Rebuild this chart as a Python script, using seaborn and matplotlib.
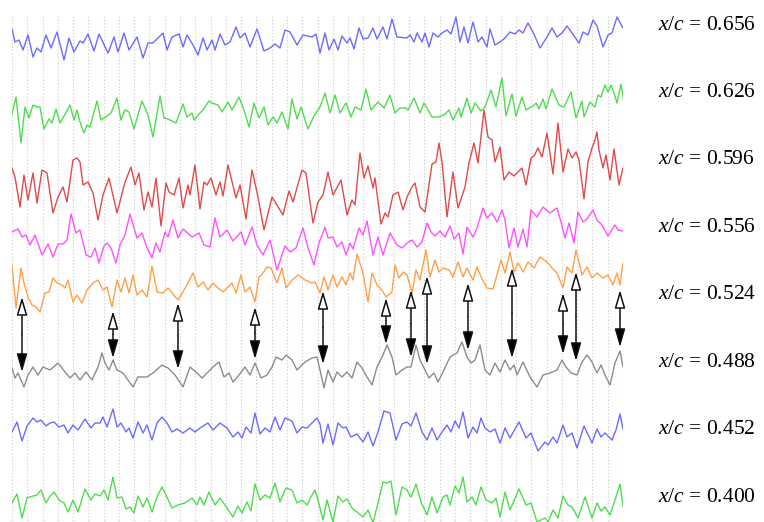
import numpy as np
import pandas as pd
import matplotlib
matplotlib.use("Agg")
import matplotlib.pyplot as plt
import seaborn as sns

# ---------------- data ----------------
# channel labels (x/c positions) and their display offsets (signal units, downward)
labels = ["0.656", "0.626", "0.596", "0.556", "0.524", "0.488", "0.452", "0.400"]
offsets = [40, 108, 178, 232, 285, 370, 428, 497]
colors = ["#6b6bff", "#4fdc4f", "#e04a4a", "#ff52ff", "#ffa048", "#8c8c8c", "#6b6bff", "#4fdc4f"]

# (sample, amplitude) readings for each channel
ch_0656 = [(12,11),(15,-2),(19,0),(23,-10),(28,5),(33,-17),(37,-8),(41,-12),(46,5),(51,-8),(57,8),(64,-20),(69,2),(74,-12),(80,-1),(83,-3),(88,6),(94,-11),(99,6),(108,-13),(114,3),(118,-12),(124,7),(129,-10),(137,3),(143,-18),(148,-3),(153,-3),(163,7),(167,-10),(172,3),(179,6),(183,-7),(187,5),(193,-5),(198,-15),(203,2),(207,-10),(212,0),(215,-10),(220,6),(225,-5),(230,-2),(236,13),(240,2),(245,7),(250,-7),(257,11),(264,-11),(270,-8),(275,-4),(280,-8),(285,10),(290,8),(297,-5),(303,5),(312,3),(316,6),(320,-13),(325,7),(329,-10),(334,1),(338,-10),(342,4),(347,-3),(350,2),(354,-9),(359,12),(363,1),(368,2),(373,12),(377,1),(383,13),(387,1),(392,21),(397,3),(407,2),(410,5),(414,-2),(417,7),(422,-2),(425,7),(429,-7),(433,7),(438,3),(442,7),(447,10),(451,6),(456,23),(460,-2),(464,13),(468,-3),(473,18),(478,-2),(482,3),(487,-7),(490,11),(495,-5),(500,-2),(505,2),(510,8),(515,6),(519,10),(523,7),(528,17),(533,8),(540,-8),(547,3),(552,12),(557,3),(562,7),(567,14),(572,7),(579,-3),(583,8),(588,5),(593,20),(597,14),(603,-7),(608,5),(612,7),(617,23),(623,12)]
ch_0626 = [(12,-6),(16,11),(21,-35),(25,1),(29,-10),(33,3),(37,1),(40,1),(44,-21),(49,-11),(52,-15),(56,-1),(60,-15),(64,-8),(70,3),(74,-12),(77,-2),(80,-14),(84,-25),(87,-17),(90,-19),(97,7),(101,-12),(107,-8),(111,-5),(117,10),(121,-12),(125,-2),(129,-4),(134,-21),(142,7),(148,-7),(153,-29),(160,12),(164,-10),(168,-11),(176,-15),(183,4),(187,-9),(192,-5),(194,-12),(199,-6),(203,-2),(209,7),(212,5),(218,3),(222,-4),(228,6),(232,-2),(239,11),(244,-2),(249,-19),(254,5),(259,-10),(264,1),(268,-17),(273,-9),(277,-15),(282,-4),(288,-21),(292,9),(297,-11),(301,1),(308,-21),(314,-8),(320,1),(325,15),(330,-5),(335,13),(340,-5),(346,5),(351,-9),(355,1),(361,-2),(366,19),(371,-2),(378,6),(384,0),(390,13),(395,-5),(400,0),(406,0),(408,-2),(414,10),(420,-5),(424,5),(432,-9),(438,-9),(444,-7),(449,-2),(453,-12),(459,0),(461,-9),(467,10),(471,-5),(475,5),(481,-3),(485,1),(491,18),(496,1),(502,30),(506,-8),(512,14),(516,-8),(522,11),(526,-2),(533,2),(536,5),(539,-1),(543,9),(546,-1),(552,19),(559,3),(564,1),(571,16),(576,-10),(582,7),(584,-9),(590,6),(595,1),(598,13),(601,11),(605,23),(608,16),(611,23),(614,15),(617,5),(621,24),(624,6)]
ch_0596 = [(12,10),(15,1),(20,-29),(24,3),(28,-22),(33,5),(37,-25),(42,8),(47,5),(53,-35),(58,-19),(63,-9),(67,-24),(73,18),(77,20),(80,16),(83,-7),(88,-4),(93,-15),(98,-42),(103,-17),(109,0),(117,-35),(125,-4),(131,11),(135,-7),(139,5),(144,-32),(148,-14),(152,-29),(156,0),(161,-48),(166,-5),(169,-14),(174,-17),(179,0),(183,-30),(188,-7),(190,-17),(195,13),(200,-31),(204,-4),(207,-7),(211,0),(216,-17),(220,-4),(223,-18),(228,13),(236,-20),(240,-7),(246,-41),(252,8),(257,-14),(264,-52),(272,-19),(283,-37),(289,-13),(293,-24),(302,8),(306,5),(313,-45),(318,-24),(323,-17),(328,6),(333,-17),(341,-2),(347,-37),(352,-22),(355,-27),(360,25),(364,0),(368,12),(373,-10),(375,0),(381,-46),(385,-35),(388,-39),(393,-17),(398,-14),(403,-32),(407,-19),(412,-9),(415,-5),(420,-29),(425,-34),(432,14),(436,16),(439,35),(442,16),(447,-39),(453,6),(458,-30),(465,-9),(469,15),(474,35),(478,15),(484,68),(488,41),(492,38),(495,16),(500,31),(504,-2),(509,6),(514,2),(522,10),(526,-7),(531,20),(534,22),(538,30),(542,21),(547,45),(553,4),(558,55),(563,6),(568,29),(572,20),(576,26),(579,18),(584,-21),(588,16),(592,30),(594,35),(597,46),(599,28),(603,10),(606,23),(610,-2),(614,29),(619,-7),(623,10)]
ch_0556 = [(12,0),(18,3),(22,-5),(26,-3),(30,-13),(35,-3),(42,-23),(48,-12),(53,-25),(58,-12),(63,-12),(67,-8),(71,18),(76,-1),(80,2),(86,-23),(91,-25),(95,-16),(99,-31),(104,-14),(107,-11),(111,-16),(116,-31),(120,-13),(125,-3),(130,18),(137,-6),(142,-1),(147,-16),(152,-26),(156,-11),(160,-20),(165,0),(168,-5),(173,12),(178,-6),(183,3),(192,-5),(199,-1),(204,-13),(210,-15),(215,14),(220,-5),(227,2),(233,-9),(241,0),(245,-13),(252,5),(257,-13),(263,-23),(270,-8),(277,-38),(285,-14),(290,-20),(296,-16),(303,4),(308,-16),(314,-33),(319,-11),(325,5),(328,-6),(333,-5),(337,-15),(342,-10),(346,-23),(350,-11),(353,-17),(359,4),(363,-3),(367,11),(373,-23),(378,-5),(383,-23),(390,-1),(397,-13),(402,-16),(407,-11),(412,-8),(417,-15),(422,-10),(427,9),(431,0),(435,-4),(440,1),(445,-5),(450,6),(454,-7),(459,-1),(463,-22),(467,5),(473,-5),(477,4),(483,24),(487,14),(492,19),(497,10),(502,22),(505,12),(509,-16),(514,4),(518,-15),(523,3),(527,-15),(531,22),(537,15),(543,25),(550,19),(557,24),(561,10),(565,-6),(569,9),(574,-11),(578,20),(583,10),(587,13),(593,22),(597,12),(602,7),(608,-4),(615,7),(618,2),(623,1)]
ch_0524 = [(12,20),(16,-23),(21,17),(24,2),(28,-12),(32,-20),(36,-22),(40,-27),(45,-8),(49,-7),(53,7),(57,2),(62,0),(65,-3),(68,5),(73,-17),(77,-10),(82,-18),(87,-5),(93,2),(98,5),(103,-5),(107,-2),(112,-22),(117,5),(121,-7),(125,7),(129,-8),(133,10),(137,-10),(142,-5),(147,-12),(152,19),(157,-7),(163,-8),(168,-3),(178,-15),(187,0),(193,12),(198,-2),(203,3),(208,-5),(213,2),(218,-3),(223,-7),(227,-3),(232,2),(236,-8),(241,10),(245,-7),(250,-2),(255,-17),(259,8),(263,12),(267,18),(271,17),(273,12),(277,2),(282,17),(286,-3),(292,5),(298,10),(305,5),(312,2),(315,3),(320,-8),(324,8),(328,-5),(333,10),(337,-2),(342,8),(346,0),(350,12),(353,5),(357,31),(363,12),(368,-17),(372,12),(377,0),(382,-5),(386,-12),(392,-7),(395,20),(399,7),(403,13),(407,10),(412,-8),(416,15),(420,5),(426,35),(430,8),(435,25),(439,13),(443,17),(449,15),(453,8),(458,23),(463,8),(467,17),(473,5),(477,18),(481,8),(487,-3),(493,-4),(501,25),(505,12),(510,33),(514,13),(518,22),(523,13),(528,23),(534,17),(540,28),(547,23),(552,17),(557,12),(563,-3),(567,18),(572,12),(576,35),(582,10),(587,18),(592,7),(597,12),(603,7),(608,10),(613,0),(617,12),(620,0),(623,22)]
ch_0488 = [(12,2),(15,-8),(18,-3),(24,-17),(28,-5),(33,3),(38,-5),(43,3),(50,0),(58,7),(65,-2),(70,-8),(75,-3),(80,-10),(86,-2),(92,-10),(98,3),(102,17),(105,7),(109,0),(113,10),(117,0),(123,-3),(128,-10),(133,-17),(138,-7),(147,-7),(153,-3),(162,5),(168,2),(175,-5),(183,-17),(190,3),(197,-3),(202,-8),(207,-3),(213,3),(219,8),(224,-7),(229,-3),(233,-12),(239,-5),(245,3),(250,-5),(255,7),(261,-8),(267,-5),(272,3),(276,13),(282,10),(286,15),(292,10),(297,0),(305,8),(312,12),(317,13),(320,0),(324,-18),(328,0),(333,-12),(337,-2),(342,-7),(347,-2),(352,-8),(357,8),(362,2),(367,-7),(372,-15),(377,3),(383,15),(387,25),(392,13),(396,-5),(402,0),(407,3),(411,3),(416,25),(420,10),(425,0),(429,-8),(434,-3),(438,-12),(443,-2),(450,13),(457,17),(462,28),(467,13),(471,7),(475,10),(480,25),(485,0),(490,-5),(495,7),(500,-2),(505,10),(510,0),(514,5),(517,-5),(523,8),(530,-7),(537,-17),(543,-5),(550,-3),(557,0),(562,10),(566,3),(571,-3),(577,-5),(582,8),(587,15),(592,8),(597,-3),(601,5),(605,-5),(610,-15),(615,7),(620,19),(623,3)]
ch_0452 = [(12,-4),(17,6),(22,-13),(27,2),(33,10),(37,6),(41,8),(46,2),(50,5),(54,6),(59,1),(64,3),(68,-5),(73,3),(78,-2),(85,9),(91,0),(95,5),(100,5),(103,11),(107,1),(113,19),(117,1),(121,5),(126,-4),(129,0),(133,-10),(138,6),(143,-5),(147,3),(152,-12),(157,5),(162,11),(167,5),(172,-4),(177,-1),(183,-5),(190,0),(195,-4),(200,0),(208,5),(213,-2),(220,5),(227,0),(233,-9),(238,-4),(242,-10),(246,1),(251,-5),(255,15),(260,-6),(265,0),(270,-4),(275,11),(280,-2),(285,10),(292,7),(297,-5),(302,1),(307,0),(312,5),(317,10),(320,4),(323,-15),(328,4),(333,-17),(338,5),(343,0),(346,1),(351,-9),(357,-6),(363,-14),(368,-4),(373,-18),(378,-4),(384,17),(390,15),(396,-12),(402,4),(407,6),(411,2),(416,15),(422,-4),(427,-12),(432,0),(437,-12),(442,-4),(447,3),(451,-4),(455,7),(459,0),(463,16),(468,-10),(473,1),(477,-5),(481,10),(485,0),(490,-4),(495,-1),(500,-15),(505,0),(510,-10),(519,6),(526,-10),(531,-5),(538,-23),(545,-14),(548,-17),(553,-9),(557,-15),(563,3),(567,-9),(572,-5),(577,-20),(584,2),(592,-15),(597,-1),(601,-9),(605,-5),(612,-12),(616,-2),(620,14),(623,-1)]
ch_0400 = [(12,-6),(17,3),(22,-21),(27,-1),(33,1),(37,2),(41,7),(46,-6),(50,1),(54,5),(59,-3),(64,-6),(68,-15),(73,-3),(78,-15),(85,8),(91,-3),(95,3),(100,1),(104,7),(108,-3),(113,20),(117,-1),(122,0),(126,-12),(130,-10),(134,-16),(138,1),(143,-10),(147,-1),(152,-15),(157,0),(162,10),(167,0),(172,-11),(178,-8),(185,-6),(192,-1),(197,-8),(200,0),(204,-8),(209,5),(215,-8),(220,-1),(227,-11),(233,-20),(238,-9),(242,-16),(247,-5),(251,-14),(255,13),(260,-3),(265,2),(270,-1),(275,14),(280,-5),(286,9),(292,7),(297,-6),(302,-3),(307,-8),(312,2),(315,7),(318,-3),(323,-23),(327,-3),(333,-25),(338,1),(343,-5),(347,-2),(352,-11),(357,-15),(363,-20),(368,-13),(373,-26),(378,-6),(383,15),(387,14),(391,16),(396,-18),(402,10),(407,7),(411,0),(416,13),(421,-5),(427,-18),(432,0),(437,-16),(443,0),(447,2),(450,-8),(455,11),(459,4),(463,20),(467,-5),(472,0),(476,-8),(481,10),(486,-3),(492,-6),(496,-1),(500,-20),(505,5),(510,-13),(519,8),(526,-8),(531,-6),(537,-25),(545,-21),(548,-25),(553,-13),(558,-21),(563,1),(568,-8),(572,-10),(578,-21),(585,0),(592,-21),(597,-6),(601,-14),(605,-10),(610,-18),(615,-3),(620,13),(623,-9)]

channels = [ch_0656, ch_0626, ch_0596, ch_0556, ch_0524, ch_0488, ch_0452, ch_0400]

# events linking channel x/c=0.524 to x/c=0.488 (sample, upper level, lower level)
arrow_samples = [22, 113, 178, 255, 323, 386, 411, 427, 468, 512, 563, 576, 620]
arrow_top = [297, 311, 303, 307, 291, 298, 290, 276, 283, 268, 293, 272, 290]
arrow_bottom = [372, 358, 369, 359, 364, 344, 357, 364, 350, 358, 354, 361, 347]

window = (12, 623)
n_grid = 40

# ---------------- build table ----------------
rows = []
for lab, off, ch in zip(labels, offsets, channels):
    for s, a in ch:
        rows.append({"sample": s, "level": off - a, "channel": lab})
df = pd.DataFrame(rows)

# ---------------- plot ----------------
sns.set_style("white")
plt.rcParams["font.family"] = ["Liberation Serif", "DejaVu Serif"]
plt.rcParams["mathtext.fontset"] = "custom"
plt.rcParams["mathtext.it"] = "Liberation Serif:italic"
plt.rcParams["mathtext.rm"] = "Liberation Serif"

fig = plt.figure(figsize=(7.64, 5.22), dpi=100)
ax = fig.add_axes([window[0] / 764, 0, (window[1] - window[0]) / 764, 1])

# dotted vertical grid
grid_x = np.linspace(window[0], window[1], n_grid + 1)
ax.vlines(grid_x, 16, 522, colors="#c8c8c8", linestyles=(0, (1, 2)), linewidth=0.8, zorder=0)

sns.lineplot(data=df, x="sample", y="level", hue="channel", hue_order=labels,
             palette=dict(zip(labels, colors)), estimator=None, sort=True,
             legend=False, linewidth=1.0, ax=ax)
for ln in ax.get_lines():
    ln.set_solid_joinstyle("round")
    ln.set_solid_capstyle("round")

# arrows
for xs, yt, yb in zip(arrow_samples, arrow_top, arrow_bottom):
    mid = (yt + yb) / 2
    ax.annotate("", xy=(xs, yt), xytext=(xs, mid),
                arrowprops=dict(arrowstyle="-|>,head_length=1.1,head_width=0.32",
                                fc="white", ec="#111111", lw=1.1, shrinkA=0, shrinkB=0,
                                mutation_scale=10))
    ax.annotate("", xy=(xs, yb), xytext=(xs, mid),
                arrowprops=dict(arrowstyle="-|>,head_length=1.1,head_width=0.32",
                                fc="black", ec="#111111", lw=1.1, shrinkA=0, shrinkB=0,
                                mutation_scale=10))

ax.set_xlim(*window)
ax.set_ylim(522, 0)
ax.axis("off")

# channel labels on the right
label_rows = np.linspace(25, 497, len(labels))
for lab, yr in zip(labels, label_rows):
    fig.text(658 / 764, 1 - yr / 522, r"$x/c$ = " + lab, fontsize=15.5,
             ha="left", va="center", color="black")

fig.savefig("out.png", dpi=100)
